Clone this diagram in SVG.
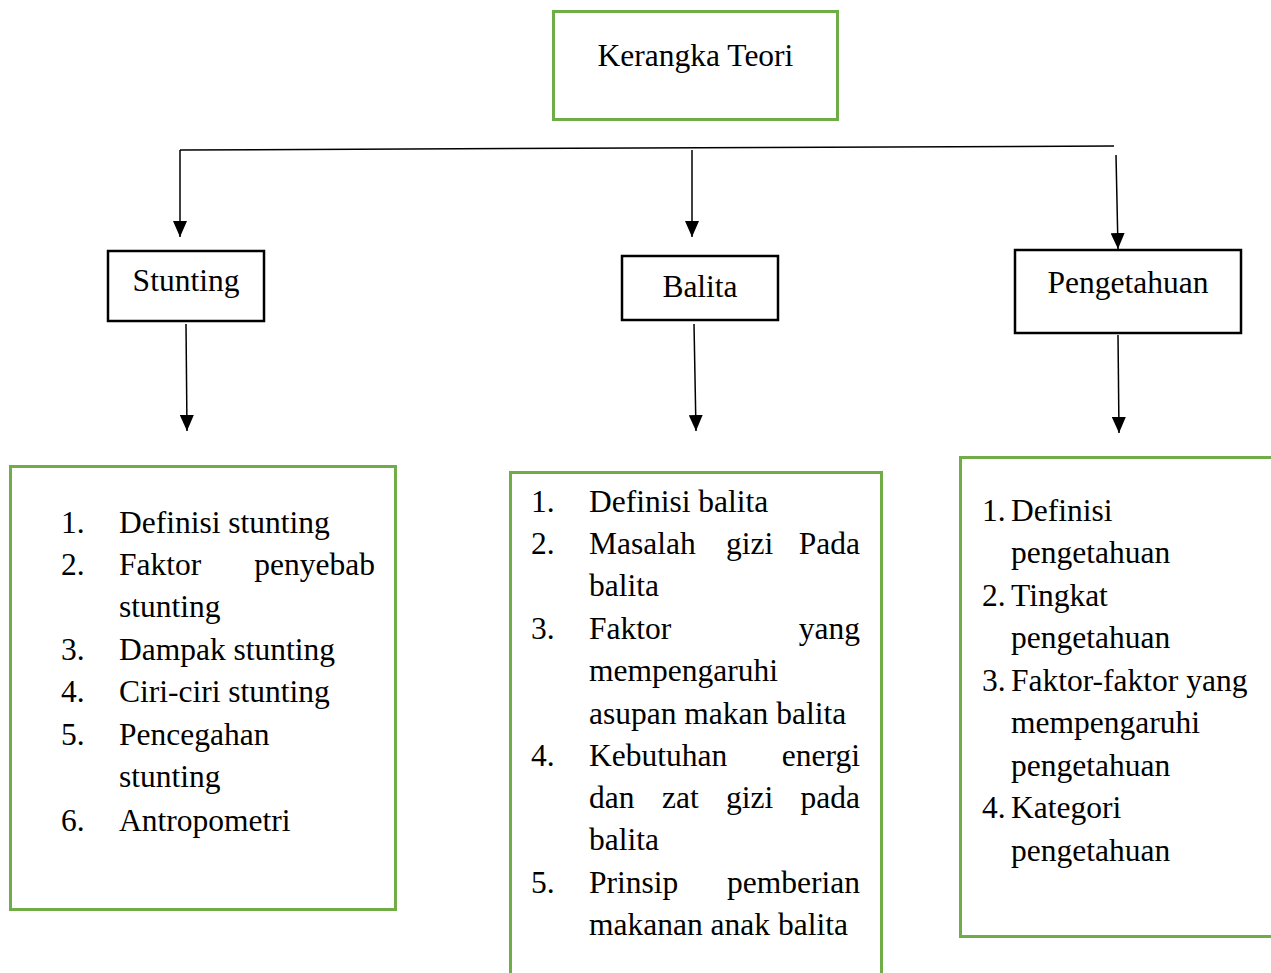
<svg xmlns="http://www.w3.org/2000/svg" width="1271" height="973" viewBox="0 0 1271 973">
<style>
text{font-family:"Liberation Serif","Times New Roman",serif;font-size:31.5px;fill:#000}
.g{fill:#fff;stroke:#70AD47;stroke-width:3}
.b{fill:#fff;stroke:#000;stroke-width:2.5}
.c{fill:none;stroke:#000;stroke-width:1.5}
.e{text-anchor:end}
.m{text-anchor:middle}
</style>
<defs>
<marker id="ah" viewBox="0 0 16 14" refX="16" refY="7" markerWidth="16" markerHeight="14" markerUnits="userSpaceOnUse" orient="auto">
<path d="M0,0 L16,7 L0,14 z" fill="#000"/>
</marker>
</defs>
<rect width="1271" height="973" fill="#fff"/>
<g id="connectors">
<path class="c" d="M180,150 L1114,146"/>
<path class="c" d="M180,150 L180,237" marker-end="url(#ah)"/>
<path class="c" d="M692,150 L692,237" marker-end="url(#ah)"/>
<path class="c" d="M1116,155 L1118,249" marker-end="url(#ah)"/>
<path class="c" d="M186,324 L187,431" marker-end="url(#ah)"/>
<path class="c" d="M694,324 L696,431" marker-end="url(#ah)"/>
<path class="c" d="M1118,335 L1119,433" marker-end="url(#ah)"/>
</g>
<g id="kerangka">
<rect class="g" x="553.5" y="11.5" width="284" height="108"/>
<text class="m" x="695.5" y="66">Kerangka Teori</text>
</g>
<g id="stunting">
<rect class="b" x="108" y="251" width="156" height="70"/>
<text class="m" x="186" y="291">Stunting</text>
</g>
<g id="balita">
<rect class="b" x="622" y="256" width="156" height="64"/>
<text class="m" x="700" y="297">Balita</text>
</g>
<g id="pengetahuan">
<rect class="b" x="1015" y="250" width="226" height="83"/>
<text class="m" x="1128" y="293">Pengetahuan</text>
</g>
<g id="stunting-list">
<rect class="g" x="10.5" y="466.5" width="385" height="443"/>
<text x="61" y="533">1.</text><text x="119" y="533">Definisi stunting</text>
<text x="61" y="575">2.</text><text x="119" y="575">Faktor</text><text class="e" x="375" y="575">penyebab</text>
<text x="119" y="617">stunting</text>
<text x="61" y="660">3.</text><text x="119" y="660">Dampak stunting</text>
<text x="61" y="702">4.</text><text x="119" y="702">Ciri-ciri stunting</text>
<text x="61" y="745">5.</text><text x="119" y="745">Pencegahan</text>
<text x="119" y="787">stunting</text>
<text x="61" y="831">6.</text><text x="119" y="831">Antropometri</text>
</g>
<g id="balita-list">
<rect class="g" x="510.5" y="472.5" width="371" height="510"/>
<text x="531" y="512">1.</text><text x="589" y="512">Definisi balita</text>
<text x="531" y="554">2.</text><text x="589" y="554">Masalah</text><text x="726" y="554">gizi</text><text class="e" x="860" y="554">Pada</text>
<text x="589" y="596">balita</text>
<text x="531" y="639">3.</text><text x="589" y="639">Faktor</text><text class="e" x="860" y="639">yang</text>
<text x="589" y="681">mempengaruhi</text>
<text x="589" y="724">asupan makan balita</text>
<text x="531" y="766">4.</text><text x="589" y="766">Kebutuhan</text><text class="e" x="860" y="766">energi</text>
<text x="589" y="808">dan</text><text x="662" y="808">zat</text><text x="726" y="808">gizi</text><text class="e" x="860" y="808">pada</text>
<text x="589" y="850">balita</text>
<text x="531" y="893">5.</text><text x="589" y="893">Prinsip</text><text class="e" x="860" y="893">pemberian</text>
<text x="589" y="935">makanan anak balita</text>
</g>
<g id="pengetahuan-list">
<rect class="g" x="960.5" y="457.5" width="320" height="479"/>
<text x="982" y="521">1.</text><text x="1011" y="521">Definisi</text>
<text x="1011" y="563">pengetahuan</text>
<text x="982" y="606">2.</text><text x="1011" y="606">Tingkat</text>
<text x="1011" y="648">pengetahuan</text>
<text x="982" y="691">3.</text><text x="1011" y="691">Faktor-faktor yang</text>
<text x="1011" y="733">mempengaruhi</text>
<text x="1011" y="776">pengetahuan</text>
<text x="982" y="818">4.</text><text x="1011" y="818">Kategori</text>
<text x="1011" y="861">pengetahuan</text>
</g>
</svg>
